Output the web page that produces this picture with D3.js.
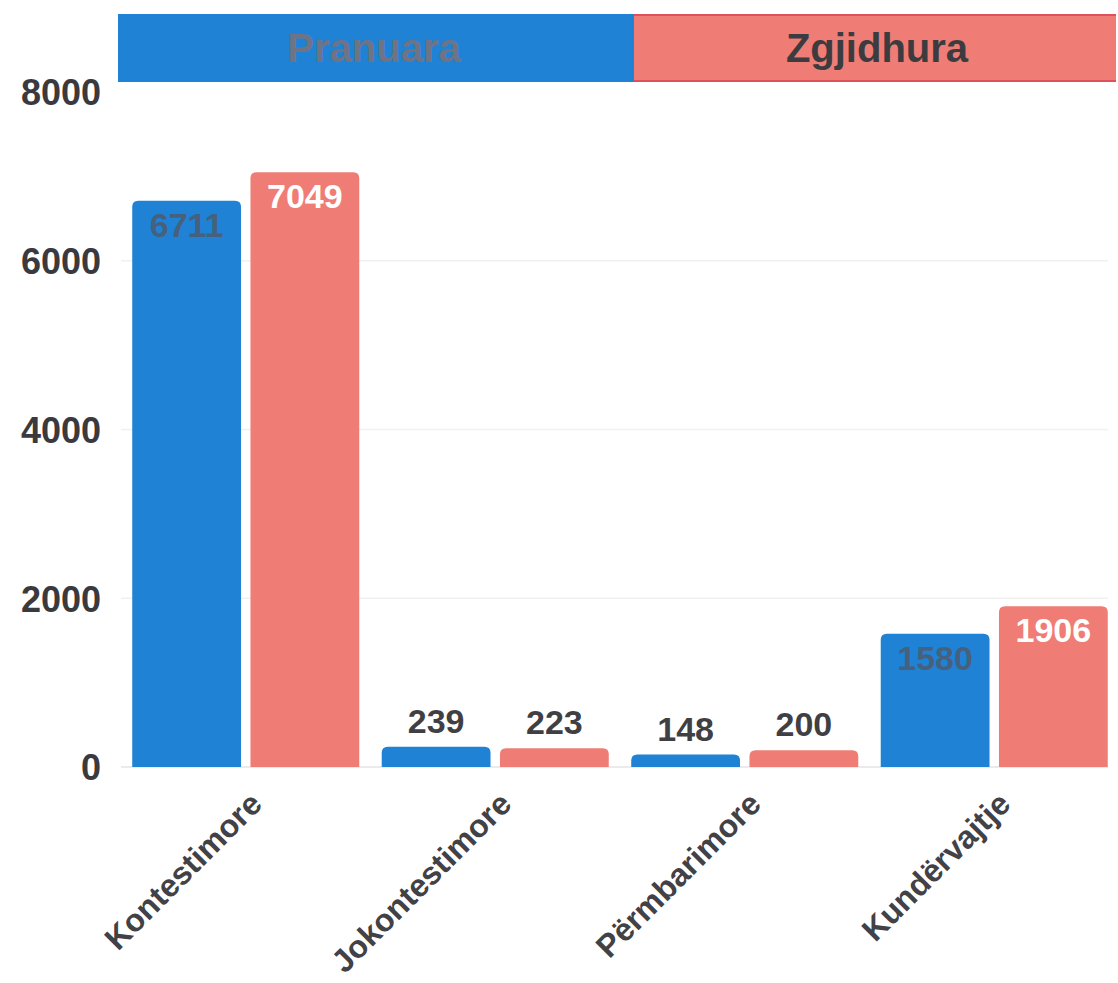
<!DOCTYPE html>
<html><head><meta charset="utf-8">
<script src="https://cdn.jsdelivr.net/npm/d3@7"></script>
<style>
html,body{margin:0;padding:0;background:#fff;}
svg{display:block;font-family:"Liberation Sans",Arial,sans-serif;}
</style></head>
<body>
<svg id="chart" width="1118" height="983"></svg>
<script>
const categories = ["Kontestimore", "Jokontestimore", "Përmbarimore", "Kundërvajtje"];
const seriesNames = ["Pranuara", "Zgjidhura"];
const pranuara = [6711, 239, 148, 1580];
const zgjidhura = [7049, 223, 200, 1906];
const yTicks = [0, 2000, 4000, 6000, 8000];
const colors = ["#1f82d5", "#f07d75"];

const svg = d3.select("#chart");
const x0 = d3.scaleBand().domain(categories).range([121, 1119]).paddingInner(0.09).paddingOuter(0.045);
const x1 = d3.scaleBand().domain(seriesNames).range([0, x0.bandwidth()]).paddingInner(0.08);
const y = d3.scaleLinear().domain([0, 8000]).range([767, 92]);

// gridlines
svg.append("g").selectAll("line").data(yTicks.filter(d => d > 0 && d < 8000)).join("line")
  .attr("x1", 121).attr("x2", 1108).attr("y1", d => y(d)).attr("y2", d => y(d))
  .attr("stroke", "#f0f0f0").attr("stroke-width", 1.5);
svg.append("line").attr("x1", 121).attr("x2", 1108).attr("y1", y(0)).attr("y2", y(0))
  .attr("stroke", "#e4e4e4").attr("stroke-width", 1.5);

// y axis
const yAxis = d3.axisLeft(y).tickValues(yTicks).tickSize(0).tickPadding(0).tickFormat(d3.format("d"));
const gy = svg.append("g").attr("transform", "translate(101,0)").call(yAxis);
gy.select(".domain").remove();
gy.selectAll("text").attr("font-size", 36).attr("font-weight", 700).attr("fill", "#3a3a3e")
  .attr("font-family", "'Liberation Sans', Arial, sans-serif").attr("dy", "0.36em");

// bars
function topRounded(x, yTop, w, h, r) {
  r = Math.min(r, h, w / 2);
  return `M${x},${yTop + h}V${yTop + r}Q${x},${yTop} ${x + r},${yTop}H${x + w - r}Q${x + w},${yTop} ${x + w},${yTop + r}V${yTop + h}Z`;
}
const rows = [];
categories.forEach((c, i) => {
  rows.push({cat: c, s: seriesNames[0], v: pranuara[i], k: 0});
  rows.push({cat: c, s: seriesNames[1], v: zgjidhura[i], k: 1});
});
svg.append("g").selectAll("path").data(rows).join("path")
  .attr("d", d => {
    const bx = x0(d.cat) + x1(d.s);
    return topRounded(bx, y(d.v), x1.bandwidth(), y(0) - y(d.v), 6);
  })
  .attr("fill", d => colors[d.k]);

// value labels
svg.append("g").selectAll("text").data(rows).join("text")
  .attr("x", d => x0(d.cat) + x1(d.s) + x1.bandwidth() / 2)
  .attr("y", d => d.v > 1000 ? y(d.v) + 36 : y(d.v) - 14)
  .attr("text-anchor", "middle")
  .attr("font-size", 34).attr("font-weight", 700)
  .attr("fill", d => d.v > 1000 ? (d.k === 1 ? "#ffffff" : "#4d5b6e") : "#3f3f44")
  .attr("fill-opacity", d => (d.v > 1000 && d.k === 0) ? 0.85 : 1)
  .text(d => d.v);

// x labels
svg.append("g").selectAll("text").data(categories).join("text")
  .attr("transform", d => `translate(${x0(d) + x0.bandwidth() / 2 + 18},${806}) rotate(-45)`)
  .attr("text-anchor", "end")
  .attr("font-size", 32).attr("font-weight", 700).attr("fill", "#414146")
  .text(d => d);

// legend bar
const legendEdges = [118, 634, 1116];
const lg = svg.append("g");
lg.selectAll("rect").data(seriesNames).join("rect")
  .attr("x", (d, i) => legendEdges[i]).attr("y", 14)
  .attr("width", (d, i) => legendEdges[i + 1] - legendEdges[i]).attr("height", 68)
  .attr("fill", (d, i) => colors[i]);
lg.append("line").attr("x1", legendEdges[1]).attr("x2", legendEdges[2]).attr("y1", 15).attr("y2", 15)
  .attr("stroke", "#e0505a").attr("stroke-width", 2);
lg.append("line").attr("x1", legendEdges[1]).attr("x2", legendEdges[2]).attr("y1", 81).attr("y2", 81)
  .attr("stroke", "#e0505a").attr("stroke-width", 2);
lg.selectAll("text").data(seriesNames).join("text")
  .attr("x", (d, i) => (legendEdges[i] + legendEdges[i + 1]) / 2 + (i === 0 ? -2 : 2)).attr("y", 62)
  .attr("text-anchor", "middle")
  .attr("font-size", 40).attr("font-weight", 700)
  .attr("fill", (d, i) => i === 0 ? "#6e7486" : "#3c3c40")
  .text(d => d);
</script>
</body></html>
